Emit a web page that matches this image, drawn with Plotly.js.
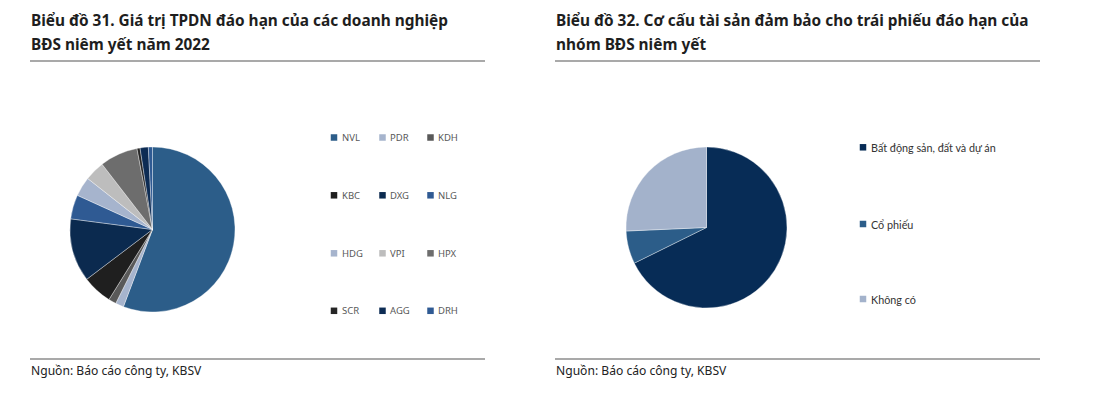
<!DOCTYPE html>
<html>
<head>
<meta charset="utf-8">
<script src="https://cdn.plot.ly/plotly-3.0.1.min.js"></script>
<style>html,body{margin:0;padding:0;background:#fff;}#chart{width:1100px;height:395px;}</style>
</head>
<body>
<div id="chart"></div>
<script>
// Chart 31: maturing corporate bond value by listed real-estate company (2022), share %
const companies = ["NVL", "PDR", "KDH", "KBC", "DXG", "NLG", "HDG", "VPI", "HPX", "SCR", "AGG", "DRH"];
const companyValues = [55.4, 1.6, 1.5, 5.8, 12.3, 4.7, 3.8, 3.9, 7.4, 0.6, 1.6, 0.8];
const companyColors = ["#2C5D89", "#A6B4CD", "#595959", "#1F1F1F", "#0B2A4F", "#2F5A93", "#A6B4CD", "#BDBDBD", "#6D6D6D", "#262626", "#0D2C54", "#2F5A93"];

// Chart 32: collateral structure of maturing bonds of listed real-estate group, share %
const collateralTypes = ["Bất động sản, đất và dự án", "Cổ phiếu", "Không có"];
const collateralValues = [67.7, 6.6, 25.7];
const collateralColors = ["#072C56", "#2C5D89", "#A3B2CB"];

const titles31 = ["Biểu đồ 31. Giá trị TPDN đáo hạn của các doanh nghiệp", "BĐS niêm yết năm 2022"];
const titles32 = ["Biểu đồ 32. Cơ cấu tài sản đảm bảo cho trái phiếu đáo hạn của", "nhóm BĐS niêm yết"];
const sourceText = "Nguồn: Báo cáo công ty, KBSV";

const W = 1100, H = 395;
const px = x => x / W;
const py = y => 1 - y / H;

const data = [
  {
    type: "pie",
    labels: companies,
    values: companyValues,
    marker: {colors: companyColors, line: {color: "rgba(255,255,255,0.6)", width: 0.6}},
    sort: false,
    direction: "clockwise",
    rotation: 0,
    textinfo: "none",
    hoverinfo: "label+percent",
    domain: {x: [px(70), px(235)], y: [py(312), py(147)]},
    showlegend: false
  },
  {
    type: "pie",
    labels: collateralTypes,
    values: collateralValues,
    marker: {colors: collateralColors, line: {color: "rgba(255,255,255,0.6)", width: 0.6}},
    sort: false,
    direction: "clockwise",
    rotation: 0,
    textinfo: "none",
    hoverinfo: "label+percent",
    domain: {x: [px(626), px(787)], y: [py(308), py(147)]},
    showlegend: false
  }
];

const annotations = [];
const shapes = [];
const titleFont = {family: "Noto Sans, sans-serif", size: 15.4, color: "#1E1E1E"};

function addText(text, x, y, font) {
  annotations.push({text: text, x: px(x), y: py(y), xref: "paper", yref: "paper",
    xanchor: "left", yanchor: "middle", showarrow: false, font: font});
}
function addLine(x0, x1, y, color, width) {
  shapes.push({type: "line", xref: "paper", yref: "paper", x0: px(x0), x1: px(x1),
    y0: py(y), y1: py(y), line: {color: color, width: width}});
}
function addSquare(cx, cy, size, color) {
  shapes.push({type: "rect", xref: "paper", yref: "paper", xsizemode: "pixel", ysizemode: "pixel",
    xanchor: px(cx), yanchor: py(cy), x0: -size / 2, x1: size / 2, y0: -size / 2, y1: size / 2,
    fillcolor: color, line: {width: 0}});
}

// Titles
addText("<b>" + titles31[0] + "</b>", 29, 20, titleFont);
addText("<b>" + titles31[1] + "</b>", 29, 45, titleFont);
addText("<b>" + titles32[0] + "</b>", 554, 20, titleFont);
addText("<b>" + titles32[1] + "</b>", 554, 45, titleFont);

// Rules
addLine(30, 485, 61, "#555555", 1.2);
addLine(555, 1040, 61, "#555555", 1.2);
addLine(30, 485, 359, "#555555", 1.2);
addLine(555, 1040, 359, "#555555", 1.2);

// Sources
const srcFont = {family: "Noto Sans, sans-serif", size: 12.1, color: "#222222"};
addText(sourceText, 29, 370, srcFont);
addText(sourceText, 554, 370, srcFont);

// Legend chart 31 (3 columns x 4 rows)
const legFont31 = {family: "Noto Sans, sans-serif", size: 9.5, color: "#595959"};
const colX = [334, 382.5, 430.5];
const rowY = [137.5, 195.3, 253.3, 310.8];
companies.forEach((name, i) => {
  const c = i % 3, r = Math.floor(i / 3);
  addSquare(colX[c], rowY[r], 6.5, companyColors[i]);
  addText(name, colX[c] + 5.5, rowY[r], legFont31);
});

// Legend chart 32
const legFont32 = {family: "Lato, sans-serif", size: 10.8, color: "#333333"};
const rowY32 = [147.3, 224, 299];
collateralTypes.forEach((name, i) => {
  addSquare(863, rowY32[i], 6.5, collateralColors[i]);
  addText(name, 868.5, rowY32[i], legFont32);
});

const layout = {
  width: W, height: H,
  margin: {l: 0, r: 0, t: 0, b: 0},
  paper_bgcolor: "#ffffff",
  plot_bgcolor: "#ffffff",
  showlegend: false,
  annotations: annotations,
  shapes: shapes
};

Plotly.newPlot("chart", data, layout, {displayModeBar: false, staticPlot: true});
</script>
</body>
</html>
